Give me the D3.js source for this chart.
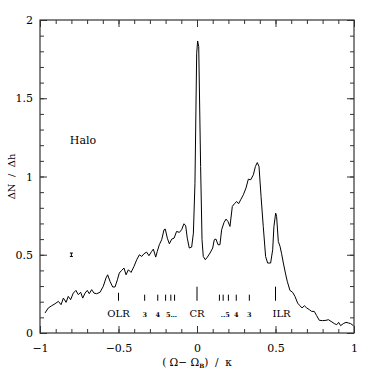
<!DOCTYPE html>
<html lang="en">
<head>
<meta charset="utf-8">
<title>Halo</title>
<style>
  body { margin: 0; background: #fff; }
  svg text { font-family: "DejaVu Serif", "Liberation Serif", serif; fill: #000; }
  .frame { fill: none; stroke: #333; stroke-width: 1.2px; }
  .curve { fill: none; stroke: #000; stroke-width: 1px; stroke-linejoin: round; }
  .axis path { display: none; }
  .axis line { stroke: #333; stroke-width: 1px; }
</style>
</head>
<body>
<div id="chart"></div>
<script src="https://cdn.jsdelivr.net/npm/d3@7"></script>
<script>
// curve: (Omega - Omega_B)/kappa vs dN/dh
var xs = [-0.968,-0.947,-0.926,-0.904,-0.883,-0.866,-0.851,-0.834,-0.820,-0.805,-0.788,-0.771,-0.756,-0.741,-0.728,-0.713,-0.699,-0.686,-0.671,-0.656,
  -0.639,-0.618,-0.597,-0.580,-0.569,-0.554,-0.537,-0.522,-0.507,-0.495,-0.480,-0.465,-0.452,-0.437,-0.420,-0.401,-0.384,-0.367,-0.352,-0.338,
  -0.321,-0.306,-0.289,-0.278,-0.263,-0.253,-0.240,-0.225,-0.210,-0.202,-0.189,-0.176,-0.161,-0.146,-0.130,-0.112,-0.098,-0.083,-0.072,-0.062,
  -0.049,-0.034,-0.023,-0.013,-0.002,0.004,0.011,0.023,0.032,0.040,0.053,0.066,0.083,0.100,0.110,0.121,0.134,0.146,0.157,0.172,
  0.185,0.197,0.210,0.225,0.238,0.253,0.265,0.278,0.295,0.312,0.327,0.342,0.359,0.372,0.384,0.395,0.408,0.422,0.437,0.450,
  0.469,0.482,0.490,0.501,0.507,0.518,0.529,0.539,0.550,0.563,0.575,0.592,0.609,0.624,0.641,0.656,0.669,0.684,0.699,0.716,
  0.730,0.747,0.762,0.779,0.800,0.822,0.837,0.854,0.875,0.890,0.902,0.915,0.932,0.949,0.964,0.979,0.996];
var ys = [0.128,0.160,0.174,0.187,0.202,0.181,0.223,0.196,0.234,0.213,0.255,0.272,0.245,0.260,0.223,0.255,0.272,0.251,0.277,0.255,
  0.251,0.260,0.298,0.351,0.372,0.330,0.294,0.294,0.340,0.383,0.400,0.415,0.372,0.404,0.387,0.426,0.468,0.500,0.489,0.506,
  0.517,0.494,0.521,0.536,0.485,0.521,0.564,0.596,0.660,0.664,0.606,0.570,0.600,0.606,0.649,0.643,0.660,0.698,0.685,0.606,
  0.543,0.549,0.638,0.957,1.787,1.866,1.830,1.064,0.596,0.489,0.468,0.485,0.511,0.543,0.596,0.600,0.564,0.564,0.660,0.706,
  0.728,0.713,0.681,0.809,0.826,0.840,0.826,0.851,0.883,0.926,0.983,0.979,1.011,1.064,1.089,1.064,0.872,0.681,0.489,0.447,
  0.447,0.532,0.681,0.766,0.745,0.585,0.553,0.506,0.447,0.383,0.330,0.272,0.260,0.234,0.191,0.174,0.160,0.174,0.160,0.149,
  0.138,0.138,0.111,0.081,0.079,0.081,0.085,0.074,0.060,0.053,0.068,0.047,0.060,0.068,0.064,0.060,0.047];

// resonance markers
var majorRes = [-0.5, 0, 0.5];
var majorResLabels = ["OLR", "CR", "ILR"];
var minorRes = [-1/3, -1/4, -1/5, -1/6, -1/7, 1/7, 1/6, 1/5, 1/4, 1/3];
var minorResLabelX = [-0.333, -0.25, -0.162, 0.18, 0.25, 0.333];
var minorResLabels = ["3", "4", "5\u2026", "..5", "4", "3"];

var xTicks = [-1, -0.5, 0, 0.5, 1];
var yTicks = [0, 0.5, 1, 1.5, 2];

// error bar
var errX = -0.8, errY = 0.5, errD = 0.011;

var width = 374, height = 374;
var margin = {left: 40, right: 20, top: 20, bottom: 41};

var svg = d3.select("#chart").append("svg")
    .attr("width", width)
    .attr("height", height);

var x = d3.scaleLinear().domain([-1, 1]).range([margin.left, width - margin.right]);
var y = d3.scaleLinear().domain([0, 2]).range([height - margin.bottom, margin.top]);

var fmt = function(d) { return d3.format("")(d).replace("-", "\u2212"); };
var minorX = d3.range(-10, 11).map(function(i) { return i / 10; });
var minorY = d3.range(0, 21).map(function(i) { return i / 10; });

// bottom
svg.append("g").attr("class", "axis")
    .attr("transform", "translate(0," + y(0) + ")")
    .call(d3.axisBottom(x).tickValues(minorX).tickSize(-4).tickFormat(""));
svg.append("g").attr("class", "axis")
    .attr("transform", "translate(0," + y(0) + ")")
    .call(d3.axisBottom(x).tickValues(xTicks).tickSize(-7).tickPadding(11).tickFormat(fmt))
    .selectAll("text").style("font-size", "11px");
// top
svg.append("g").attr("class", "axis")
    .attr("transform", "translate(0," + y(2) + ")")
    .call(d3.axisTop(x).tickValues(minorX).tickSize(-4).tickFormat(""));
svg.append("g").attr("class", "axis")
    .attr("transform", "translate(0," + y(2) + ")")
    .call(d3.axisTop(x).tickValues(xTicks).tickSize(-7).tickFormat(""));
// left
svg.append("g").attr("class", "axis")
    .attr("transform", "translate(" + x(-1) + ",0)")
    .call(d3.axisLeft(y).tickValues(minorY).tickSize(-4).tickFormat(""));
svg.append("g").attr("class", "axis")
    .attr("transform", "translate(" + x(-1) + ",0)")
    .call(d3.axisLeft(y).tickValues(yTicks).tickSize(-7).tickPadding(7).tickFormat(fmt))
    .selectAll("text").style("font-size", "11px");
// right
svg.append("g").attr("class", "axis")
    .attr("transform", "translate(" + x(1) + ",0)")
    .call(d3.axisRight(y).tickValues(minorY).tickSize(-4).tickFormat(""));
svg.append("g").attr("class", "axis")
    .attr("transform", "translate(" + x(1) + ",0)")
    .call(d3.axisRight(y).tickValues(yTicks).tickSize(-7).tickFormat(""));

svg.append("rect").attr("class", "frame")
    .attr("x", x(-1)).attr("y", y(2))
    .attr("width", x(1) - x(-1)).attr("height", y(0) - y(2));

// curve
var pts = xs.map(function(d, i) { return [d, ys[i]]; });
svg.append("path").datum(pts).attr("class", "curve")
    .attr("d", d3.line().x(function(d) { return x(d[0]); }).y(function(d) { return y(d[1]); }));

// resonance ticks
svg.selectAll(".rmaj").data(majorRes).enter().append("line")
    .attr("x1", function(d) { return x(d); }).attr("x2", function(d) { return x(d); })
    .attr("y1", function(d) { return y(d === -0.5 ? 0.257 : 0.296); }).attr("y2", y(0.206))
    .attr("stroke", "#000").attr("stroke-width", 1);
svg.selectAll(".rmin").data(minorRes).enter().append("line")
    .attr("x1", function(d) { return x(d); }).attr("x2", function(d) { return x(d); })
    .attr("y1", y(0.245)).attr("y2", y(0.206))
    .attr("stroke", "#000").attr("stroke-width", 1);

svg.selectAll(".rlab").data(majorRes).enter().append("text")
    .attr("x", function(d) { return x(d) + (d === 0.5 ? -3 : 0); })
    .attr("y", y(0.1))
    .attr("text-anchor", function(d) { return d === 0.5 ? "start" : "middle"; })
    .style("font-size", "10px")
    .text(function(d, i) { return majorResLabels[i]; });
svg.selectAll(".rslab").data(minorResLabelX).enter().append("text")
    .attr("x", function(d) { return x(d); })
    .attr("y", y(0.1))
    .attr("text-anchor", "middle")
    .style("font-size", "6.5px").style("font-weight", "bold")
    .text(function(d, i) { return minorResLabels[i]; });

// error bar
svg.append("line").attr("x1", x(errX)).attr("x2", x(errX))
    .attr("y1", y(errY - errD)).attr("y2", y(errY + errD)).attr("stroke", "#000");
[errY - errD, errY + errD].forEach(function(v) {
  svg.append("line").attr("x1", x(errX) - 1.5).attr("x2", x(errX) + 1.5)
      .attr("y1", y(v)).attr("y2", y(v)).attr("stroke", "#000");
});

svg.append("text").attr("x", x(-0.81)).attr("y", y(1.21))
    .style("font-size", "11px").text("Halo");

// axis titles
var xt = svg.append("text").attr("x", x(0)).attr("y", 366)
    .attr("text-anchor", "middle").style("font-size", "10.5px").style("white-space", "pre");
xt.append("tspan").text("( \u03A9\u2212 \u03A9");
xt.append("tspan").attr("dy", 2).style("font-size", "6px").style("font-weight", "bold").text("B");
xt.append("tspan").attr("dy", -2).text(")  /  \u03BA");

svg.append("text")
    .attr("transform", "translate(15," + y(1) + ") rotate(-90)")
    .attr("text-anchor", "middle").style("font-size", "10px").style("white-space", "pre")
    .text("\u0394N  /  \u0394h");
</script>
</body>
</html>
